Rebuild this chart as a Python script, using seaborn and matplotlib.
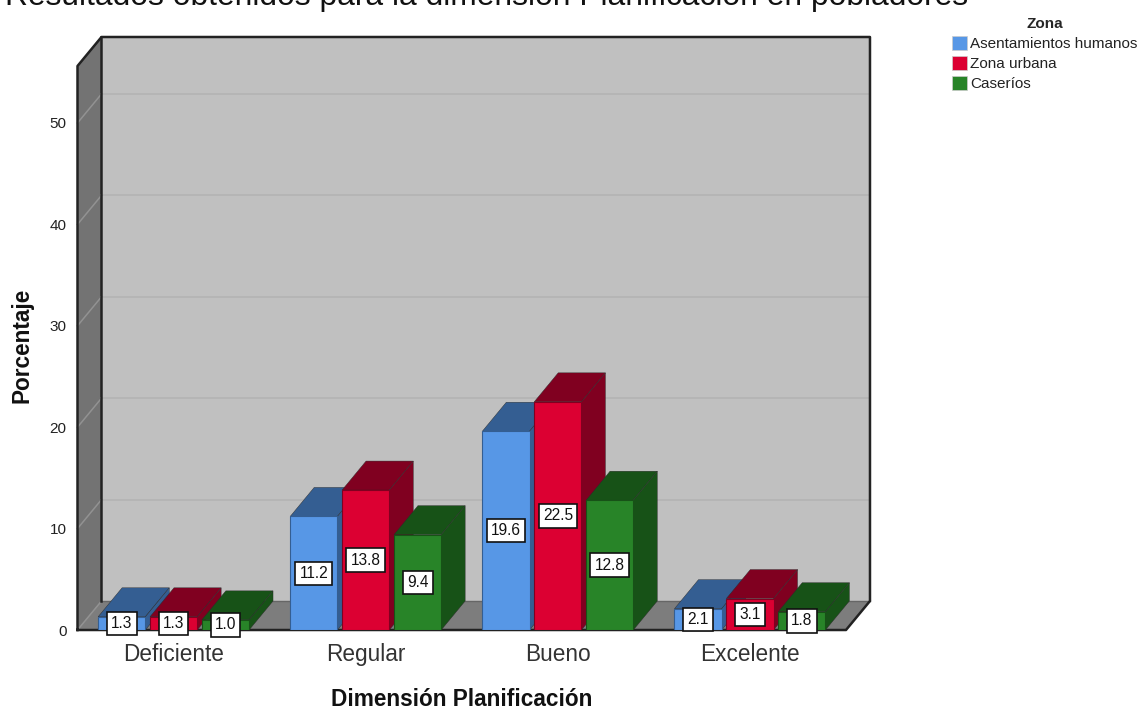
import pandas as pd
import matplotlib
matplotlib.use("Agg")
import matplotlib.pyplot as plt
from matplotlib.patches import Polygon, Patch
import seaborn as sns

# values
niveles = ["Deficiente", "Regular", "Bueno", "Excelente"]
zonas = ["Asentamientos humanos", "Zona urbana", "Caseríos"]
asentamientos = [1.3, 11.2, 19.6, 2.1]
urbana = [1.3, 13.8, 22.5, 3.1]
caserios = [1.0, 9.4, 12.8, 1.8]
y_ticks = [0, 10, 20, 30, 40, 50]

colores = ["#5797E6", "#DC0032", "#288428"]
oscuros = ["#345E92", "#800020", "#175217"]

W, H = 1141, 706
Y_TOP = 55.62
DX = 24 / (769 / 4)  # depth of the fake 3d box, in data units
DY = 29 / 10.14

df = pd.DataFrame({
    "nivel": niveles * 3,
    "zona": [z for z in zonas for _ in niveles],
    "pct": asentamientos + urbana + caserios,
})

sns.set_theme(style="white")
plt.rcParams["font.family"] = ["Liberation Sans", "DejaVu Sans"]

fig = plt.figure(figsize=(W / 100, H / 100), dpi=100, facecolor="white")
ax = fig.add_axes([77.5 / W, 1 - 630 / H, 768.5 / W, 564 / H])
ax.patch.set_alpha(0)

sns.barplot(data=df, x="nivel", y="pct", hue="zona", order=niveles, hue_order=zonas,
            palette=colores, saturation=1, width=0.81, gap=0.09, legend=False, ax=ax)

x0, x1 = -0.5, 3.5


def wall(pts, color, z=0.5):
    ax.add_patch(Polygon(pts, closed=True, fc=color, ec="none", zorder=z, clip_on=False))


def edge(xs, ys, color="#222222", lw=1.8, z=1.5):
    ax.plot(xs, ys, color=color, lw=lw, zorder=z, clip_on=False, solid_capstyle="projecting")


# box: back wall, left wall, floor
wall([(x0 + DX, DY), (x1 + DX, DY), (x1 + DX, Y_TOP + DY), (x0 + DX, Y_TOP + DY)], "#C0C0C0")
wall([(x0, 0), (x0 + DX, DY), (x0 + DX, Y_TOP + DY), (x0, Y_TOP)], "#737373")
wall([(x0, 0), (x1, 0), (x1 + DX, DY), (x0 + DX, DY)], "#7D7D7D")

for t in y_ticks[1:]:
    edge([x0 + DX, x1 + DX], [t + DY, t + DY], color="#B5B5B5", lw=1.4, z=0.8)
    edge([x0, x0 + DX], [t, t + DY], color="#929292", lw=1.1, z=0.8)
edge([x0, x0 + DX], [0, DY], color="#929292", lw=1.1, z=0.8)
edge([x0 + DX, x1 + DX], [DY, DY], color="#666666", lw=1.0, z=0.8)

edge([x0, x0, x0 + DX, x1 + DX, x1 + DX, x1, x0], [0, Y_TOP, Y_TOP + DY, Y_TOP + DY, DY, 0, 0])
edge([x0 + DX, x0 + DX], [DY, Y_TOP + DY])

# 3d sides of the bars, taken from the bars seaborn drew
for i, cont in enumerate(ax.containers):
    base = 3 + i
    for bar in cont:
        bx, bw, bh = bar.get_x(), bar.get_width(), bar.get_height()
        ax.add_patch(Polygon([(bx, bh), (bx + bw, bh), (bx + bw + DX, bh + DY), (bx + DX, bh + DY)],
                             fc=oscuros[i], ec="#2a2a2a", lw=0.3, zorder=base, clip_on=False))
        ax.add_patch(Polygon([(bx + bw, 0), (bx + bw + DX, DY), (bx + bw + DX, bh + DY), (bx + bw, bh)],
                             fc=oscuros[i], ec="#2a2a2a", lw=0.3, zorder=base, clip_on=False))
        bar.set_zorder(base + 0.5)
        bar.set_edgecolor(oscuros[i])
        bar.set_linewidth(0.8)
    ax.bar_label(cont, fmt="%.1f", label_type="center", fontsize=11.2, color="#111111", zorder=20,
                 bbox=dict(boxstyle="square,pad=0.27", fc="white", ec="#111111", lw=1.2))

ax.set_xlim(x0, x1)
ax.set_ylim(0, Y_TOP)
ax.set_yticks(y_ticks)
ax.tick_params(axis="y", length=0, pad=8, labelsize=11, labelcolor="#222222")
ax.tick_params(axis="x", length=0, pad=9.6, labelsize=16.3, labelcolor="#333333")
sns.despine(ax=ax, left=True, bottom=True)
ax.set_xlabel("Dimensión Planificación", fontsize=16.3, fontweight="bold", color="#111111", labelpad=15.5)
ax.set_ylabel("Porcentaje", fontsize=16.3, fontweight="bold", color="#111111", labelpad=11.4, y=0.505)

fig.text(5 / W, 1 - 5 / H, "Resultados obtenidos para la dimensión Planificación en pobladores",
         fontsize=22.9, color="#111111", ha="left", va="baseline")

handles = [Patch(fc=c, ec="#cccccc", lw=0.5) for c in colores]
leg = fig.legend(handles, zonas, title="Zona", loc="upper left",
                 bbox_to_anchor=(941 / W, 1 - 6 / H), frameon=False, fontsize=11,
                 title_fontproperties={"weight": "bold", "size": 11},
                 handlelength=1.0, handleheight=1.0, handletextpad=0.2,
                 labelspacing=0.32, borderpad=0.2, labelcolor="#222222")
leg._legend_box.sep = 4

fig.savefig("out.png", dpi=100)
